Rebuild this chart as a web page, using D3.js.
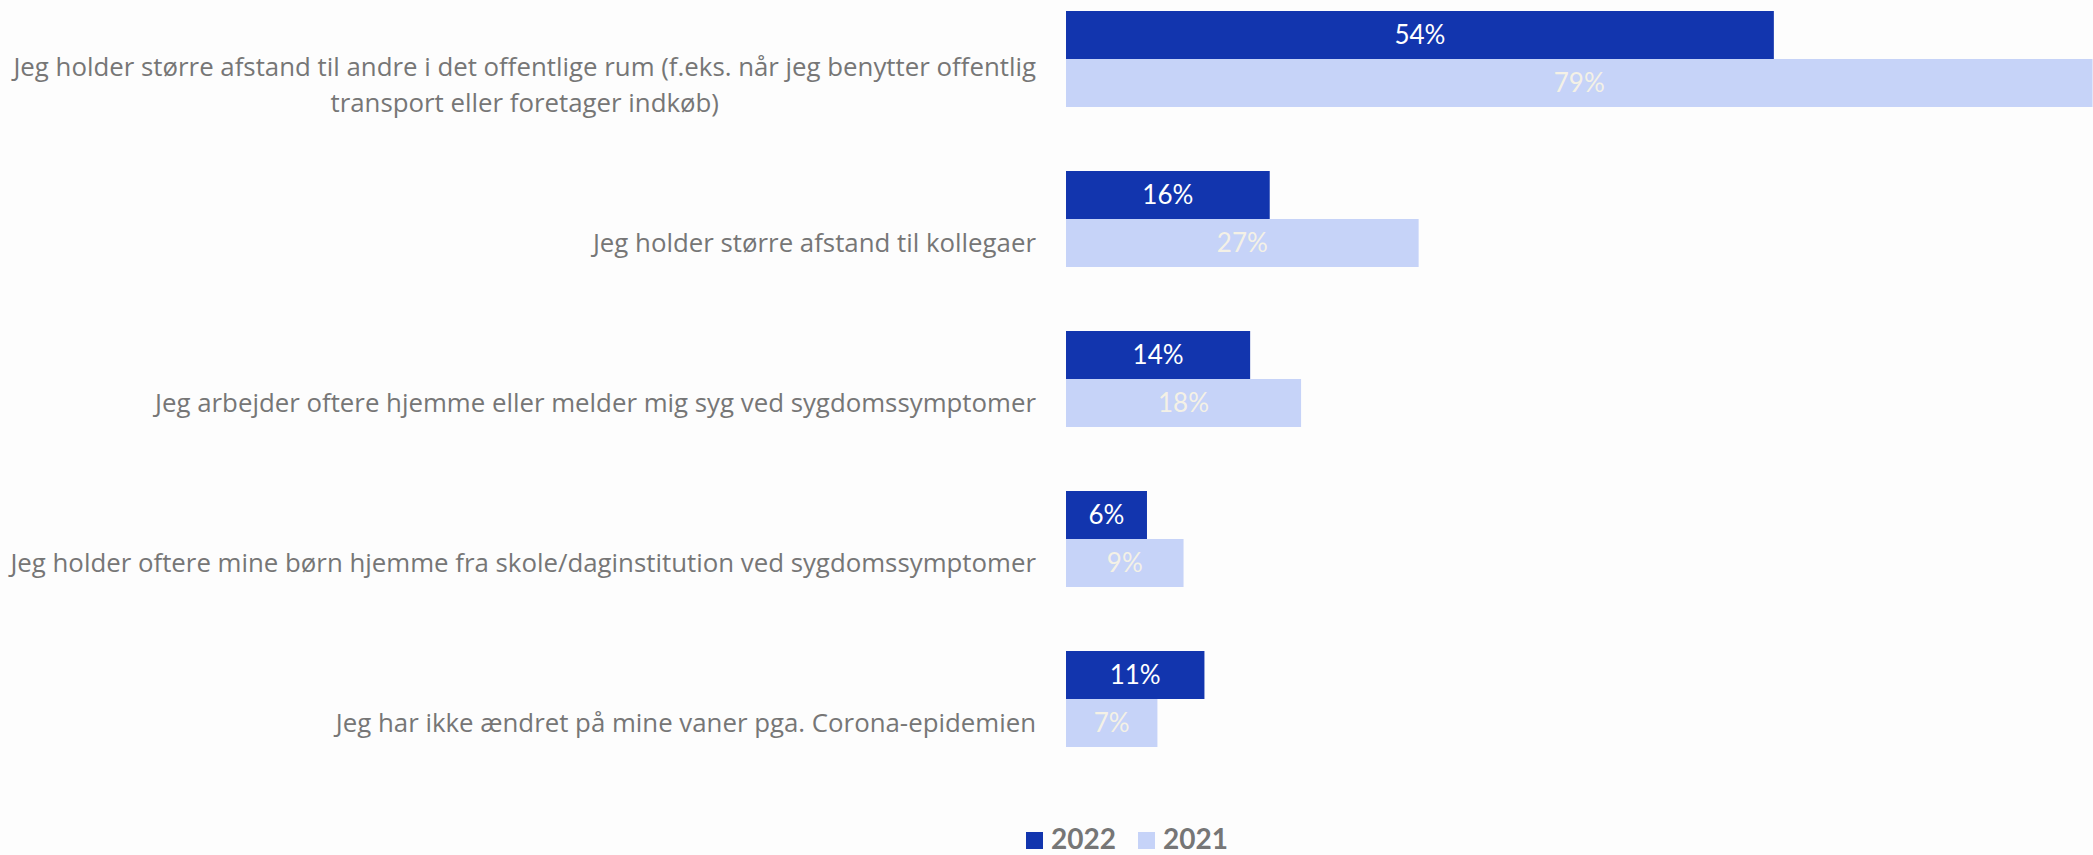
<!DOCTYPE html>
<html>
<head>
<meta charset="utf-8">
<script src="https://cdn.jsdelivr.net/npm/d3@7"></script>
<style>
    html, body { margin: 0; padding: 0; background: #fdfdfd; }
    svg { display: block; }
    text { font-family: Lato, "Open Sans", sans-serif; }
    text.cat { font-family: "Open Sans", Lato, sans-serif; }
</style>
</head>
<body>
<svg id="chart" width="2093" height="855"></svg>
<script>
    // categories, one entry of lines per bar group
    const categories = [
        ["Jeg holder større afstand til andre i det offentlige rum (f.eks. når jeg benytter offentlig",
            "transport eller foretager indkøb)"],
        ["Jeg holder større afstand til kollegaer"],
        ["Jeg arbejder oftere hjemme eller melder mig syg ved sygdomssymptomer"],
        ["Jeg holder oftere mine børn hjemme fra skole/daginstitution ved sygdomssymptomer"],
        ["Jeg har ikke ændret på mine vaner pga. Corona-epidemien"]
    ];
    const seriesNames = ["2022", "2021"];
    const values2022 = [54.2, 15.6, 14.1, 6.2, 10.6];
    const values2021 = [78.6, 27.0, 18.0, 9.0, 7.0];

    const colors = { "2022": "#1235ae", "2021": "#c6d3f8" };
    const labelColors = { "2022": "#ffffff", "2021": "#f4f1e6" };
    const grey = "#767676";

    const svg = d3.select("#chart");

    let keys = categories.map(function (d, i) { return "c" + i; });

    let x = d3.scaleLinear()
        .domain([0, 80])
        .range([1066, 1066 + 80 * 13.06]);

    let y = d3.scaleBand()
        .domain(keys)
        .range([-21, 779])
        .paddingInner(0.4)
        .paddingOuter(0.2);

    let ySub = d3.scaleBand()
        .domain(seriesNames)
        .range([0, y.bandwidth()]);

    let rows = categories.map(function (c, i) {
        return {
            key: keys[i],
            lines: c,
            values: [
                { name: "2022", value: values2022[i] },
                { name: "2021", value: values2021[i] }
            ]
        };
    });

    let fmt = function (v) { return d3.format(".0f")(v) + "%"; };

    // bar groups
    let group = svg.selectAll("g.group")
        .data(rows)
        .enter().append("g")
        .attr("class", "group")
        .attr("transform", function (d) { return "translate(0," + y(d.key) + ")"; });

    group.selectAll("rect")
        .data(function (d) { return d.values; })
        .enter().append("rect")
        .attr("x", x(0))
        .attr("y", function (d) { return ySub(d.name); })
        .attr("width", function (d) { return x(d.value) - x(0); })
        .attr("height", ySub.bandwidth())
        .attr("fill", function (d) { return colors[d.name]; });

    group.selectAll("text.value")
        .data(function (d) { return d.values; })
        .enter().append("text")
        .attr("class", "value")
        .attr("x", function (d) { return (x(0) + x(d.value)) / 2; })
        .attr("y", function (d) { return ySub(d.name) + ySub.bandwidth() / 2; })
        .attr("dy", "0.36em")
        .attr("text-anchor", "middle")
        .attr("font-size", 26)
        .attr("fill", function (d) { return labelColors[d.name]; })
        .text(function (d) { return fmt(d.value); });

    // category labels, centred on the 2021 bar, right edge next to the axis
    let labelRight = x(0) - 30;
    let lineHeight = 36;

    // size the label font so the widest line spans the same room as the original
    let probe = svg.append("text").attr("class", "cat").attr("font-size", 24).text(categories[0][0]);
    let catSize = 24 * 1023 / probe.node().getComputedTextLength();
    probe.remove();

    group.each(function (d) {
        let g = d3.select(this);
        let cy = ySub("2021") + ySub.bandwidth() / 2 + (d.lines.length > 1 ? 2 : 0);
        let t = g.append("text")
            .attr("class", "cat")
            .attr("font-size", catSize)
            .attr("fill", grey)
            .attr("text-anchor", "middle");

        d.lines.forEach(function (line, i) {
            t.append("tspan")
                .attr("y", cy + (i - (d.lines.length - 1) / 2) * lineHeight)
                .attr("dy", "0.35em")
                .text(line);
        });

        let maxW = 0;
        t.selectAll("tspan").each(function () {
            maxW = Math.max(maxW, this.getComputedTextLength());
        });
        t.selectAll("tspan").attr("x", labelRight - maxW / 2);
    });

    // legend
    let legend = svg.append("g").attr("class", "legend");
    let legendX = [1026, 1138];

    let item = legend.selectAll("g")
        .data(seriesNames)
        .enter().append("g")
        .attr("transform", function (d, i) { return "translate(" + legendX[i] + ",832)"; });

    item.append("rect")
        .attr("width", 17)
        .attr("height", 17)
        .attr("fill", function (d) { return colors[d]; });

    item.append("text")
        .attr("x", 25)
        .attr("y", 17)
        .attr("font-size", 28)
        .attr("font-weight", "bold")
        .attr("fill", grey)
        .text(function (d) { return d; });
</script>
</body>
</html>
